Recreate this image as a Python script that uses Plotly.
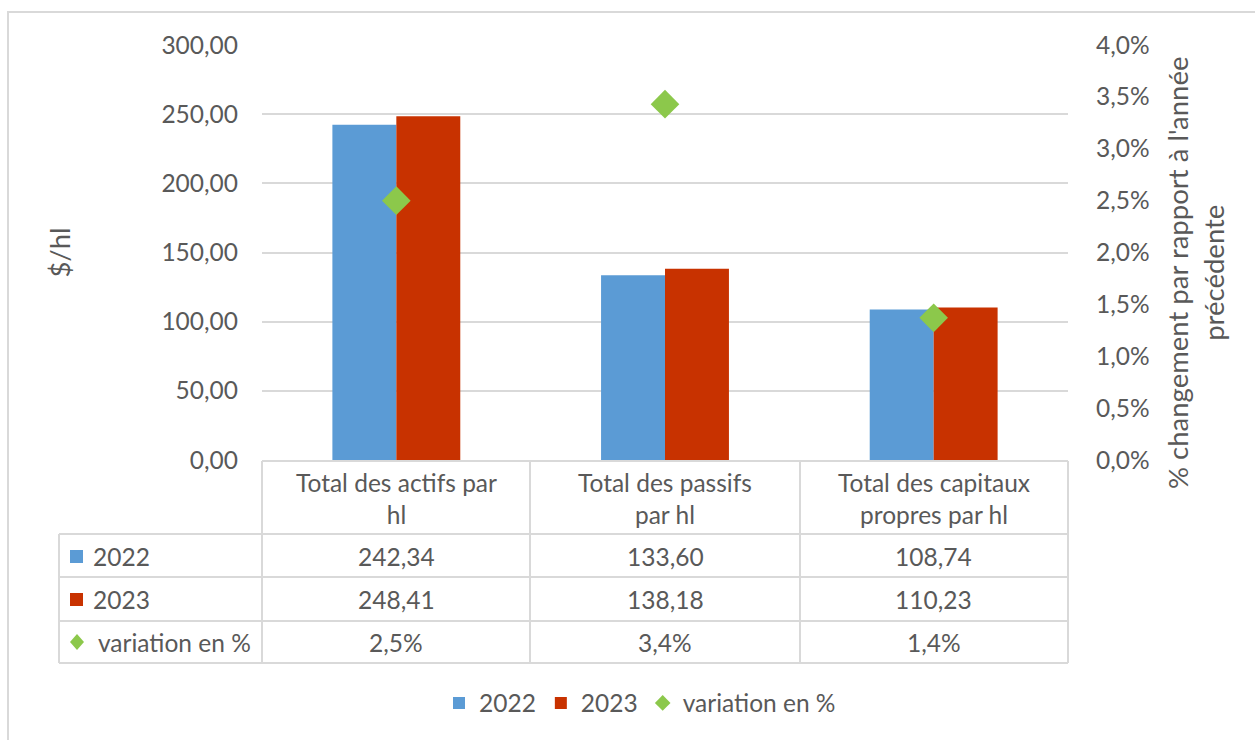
import plotly.graph_objects as go

# ---------------- data ----------------
categories = ["Total des actifs par hl", "Total des passifs par hl", "Total des capitaux propres par hl"]
header_labels = ["Total des actifs par<br>hl", "Total des passifs<br>par hl", "Total des capitaux<br>propres par hl"]
series_names = ["2022", "2023", "variation en %"]
values_2022 = [242.34, 133.60, 108.74]
values_2023 = [248.41, 138.18, 110.23]
variation = [0.0250, 0.0343, 0.0137]
left_title = "$/hl"
right_title = "% changement par rapport à l'année<br>précédente"

# ---------------- style ----------------
W, H = 1255, 740
L, R, T, B = 262, 1068, 45, 460  # plot area in pixels
FONT = "Lato"
FS = 24.5
TFS = 27.5
GRAY = "#595959"
GRID = "#D9D9D9"
BLUE = "#5B9BD5"
RED = "#C83200"
GREEN = "#8CC84B"


def px(p):
    return (p - L) / (R - L)


def py(p):
    return (B - p) / (B - T)


def fmt_val(v):
    return f"{v:.2f}".replace(".", ",")


def fmt_pct(v):
    return f"{v * 100:.1f}%".replace(".", ",")


fig = go.Figure()
fig.add_trace(go.Bar(x=categories, y=values_2022, name=series_names[0], marker_color=BLUE,
                     marker_line_width=0))
fig.add_trace(go.Bar(x=categories, y=values_2023, name=series_names[1], marker_color=RED,
                     marker_line_width=0))
fig.add_trace(go.Scatter(x=categories, y=variation, name=series_names[2], mode="markers",
                         yaxis="y2", marker=dict(symbol="diamond", size=22, color=GREEN,
                                                 line=dict(width=0))))

shapes = []
annotations = []

# outer chart border
shapes.append(dict(type="rect", xref="paper", yref="paper", x0=px(8), x1=px(1300), y0=py(12), y1=py(800),
                   line=dict(color=GRID, width=2), fillcolor="rgba(0,0,0,0)", layer="below"))

# data table grid
tline = dict(color=GRID, width=2)
row_y = [534, 577, 621, 663]
shapes.append(dict(type="line", xref="paper", yref="paper", x0=px(L), x1=px(R), y0=py(461), y1=py(461), line=tline))
for yy in row_y:
    shapes.append(dict(type="line", xref="paper", yref="paper", x0=px(59), x1=px(R), y0=py(yy), y1=py(yy), line=tline))
shapes.append(dict(type="line", xref="paper", yref="paper", x0=px(59), x1=px(59), y0=py(534), y1=py(663), line=tline))
for xx in [L, 530, 800, R]:
    shapes.append(dict(type="line", xref="paper", yref="paper", x0=px(xx), x1=px(xx), y0=py(461), y1=py(663), line=tline))

# table key symbols
shapes.append(dict(type="rect", xref="paper", yref="paper", x0=px(70), x1=px(83), y0=py(563), y1=py(550),
                   line=dict(width=0), fillcolor=BLUE))
shapes.append(dict(type="rect", xref="paper", yref="paper", x0=px(70), x1=px(83), y0=py(606), y1=py(593),
                   line=dict(width=0), fillcolor=RED))
dx, dy = 7 / (R - L), 8 / (B - T)
cx, cy = px(77), py(642)
shapes.append(dict(type="path", xref="paper", yref="paper",
                   path=f"M {cx - dx} {cy} L {cx} {cy + dy} L {cx + dx} {cy} L {cx} {cy - dy} Z",
                   line=dict(width=0), fillcolor=GREEN))

tfont = dict(family=FONT, size=FS, color=GRAY)
annotations.append(dict(text=series_names[0], x=px(91), y=py(556), xref="paper", yref="paper",
                        xanchor="left", yanchor="middle", showarrow=False, font=tfont))
annotations.append(dict(text=series_names[1], x=px(91), y=py(599), xref="paper", yref="paper",
                        xanchor="left", yanchor="middle", showarrow=False, font=tfont))
annotations.append(dict(text=series_names[2], x=px(96), y=py(642), xref="paper", yref="paper",
                        xanchor="left", yanchor="middle", showarrow=False, font=tfont))

for i, cat in enumerate(categories):
    annotations.append(dict(text=header_labels[i], x=cat, xref="x", y=py(498), yref="paper",
                            xanchor="center", yanchor="middle", showarrow=False, font=tfont))
    annotations.append(dict(text=fmt_val(values_2022[i]), x=cat, xref="x", y=py(556), yref="paper",
                            xanchor="center", yanchor="middle", showarrow=False, font=tfont))
    annotations.append(dict(text=fmt_val(values_2023[i]), x=cat, xref="x", y=py(599), yref="paper",
                            xanchor="center", yanchor="middle", showarrow=False, font=tfont))
    annotations.append(dict(text=fmt_pct(variation[i]), x=cat, xref="x", y=py(642), yref="paper",
                            xanchor="center", yanchor="middle", showarrow=False, font=tfont))

# secondary axis title (Excel centres it slightly lower than the plot area)
annotations.append(dict(text=right_title, x=px(1195), y=py(273), xref="paper", yref="paper",
                        xanchor="center", yanchor="middle", textangle=-90, showarrow=False,
                        font=dict(family=FONT, size=TFS, color=GRAY)))

fig.update_layout(
    template="none",
    width=W, height=H,
    margin=dict(l=L, r=W - R, t=T, b=H - B, pad=0),
    paper_bgcolor="white", plot_bgcolor="white",
    font=dict(family=FONT, size=FS, color=GRAY),
    separators=", ",
    barmode="group", bargap=0.524, bargroupgap=0,
    showlegend=True,
    legend=dict(orientation="h", x=px(640), xanchor="center", y=py(703), yanchor="middle",
                font=dict(family=FONT, size=FS, color=GRAY), itemsizing="constant",
                bgcolor="rgba(0,0,0,0)", traceorder="normal"),
    xaxis=dict(showticklabels=False, showgrid=False, zeroline=False, showline=False, ticks="",
               range=[-0.5, 2.5]),
    yaxis=dict(range=[0, 300], dtick=50, tickformat=".2f", showgrid=True, gridcolor=GRID, gridwidth=1.5,
               zeroline=False, showline=False, ticks="", ticklabelstandoff=23,
               tickfont=dict(family=FONT, size=FS, color=GRAY),
               title=dict(text=left_title, standoff=82, font=dict(family=FONT, size=TFS, color=GRAY))),
    yaxis2=dict(range=[0, 0.04], dtick=0.005, tickformat=".1%", overlaying="y", side="right",
                showgrid=False, zeroline=False, showline=False, ticks="", ticklabelstandoff=27,
                tickfont=dict(family=FONT, size=FS, color=GRAY)),
    shapes=shapes,
    annotations=annotations,
)

fig.write_html("out.html", config={"displayModeBar": False},
               post_script="document.body.style.margin='0';document.body.style.overflow='hidden';")
